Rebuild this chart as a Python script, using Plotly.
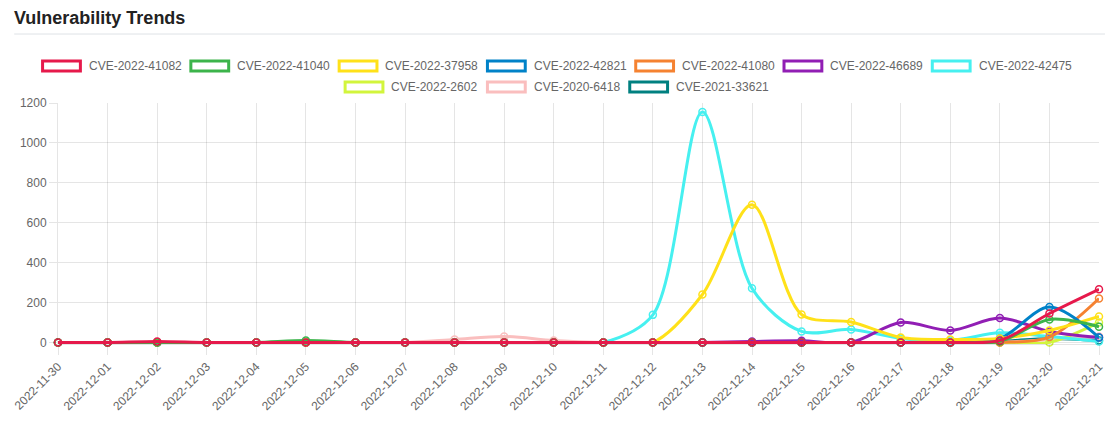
import plotly.graph_objects as go

dates = ["2022-11-30", "2022-12-01", "2022-12-02", "2022-12-03", "2022-12-04", "2022-12-05",
         "2022-12-06", "2022-12-07", "2022-12-08", "2022-12-09", "2022-12-10", "2022-12-11",
         "2022-12-12", "2022-12-13", "2022-12-14", "2022-12-15", "2022-12-16", "2022-12-17",
         "2022-12-18", "2022-12-19", "2022-12-20", "2022-12-21"]

cve_2022_41082 = [0, 0, 5, 0, 0, 0, 0, 0, 0, 0, 0, 0, 0, 0, 0, 0, 0, 0, 0, 10, 145, 266]
cve_2022_41040 = [0, 0, 0, 0, 0, 10, 0, 0, 0, 0, 0, 0, 0, 0, 0, 0, 0, 0, 0, 5, 115, 78]
cve_2022_37958 = [0, 0, 0, 0, 0, 0, 0, 0, 0, 0, 0, 0, 0, 240, 690, 140, 102, 25, 15, 20, 60, 130]
cve_2022_42821 = [0, 0, 0, 0, 0, 0, 0, 0, 0, 0, 0, 0, 0, 0, 0, 0, 0, 0, 0, 20, 177, 25]
cve_2022_41080 = [0, 0, 0, 0, 0, 0, 0, 0, 0, 0, 0, 0, 0, 0, 0, 0, 0, 0, 0, 0, 27, 220]
cve_2022_46689 = [0, 0, 0, 0, 0, 0, 0, 0, 0, 0, 0, 0, 0, 0, 5, 8, 0, 100, 60, 122, 55, 25]
cve_2022_42475 = [0, 0, 0, 0, 0, 0, 0, 0, 0, 0, 0, 0, 138, 1155, 271, 55, 65, 20, 10, 48, 30, 5]
cve_2022_2602 = [0, 0, 0, 0, 0, 0, 0, 0, 0, 0, 0, 0, 0, 0, 0, 0, 0, 0, 0, 0, 0, 100]
cve_2020_6418 = [0, 0, 0, 0, 0, 0, 0, 0, 15, 30, 10, 0, 0, 0, 0, 0, 0, 0, 0, 0, 15, 30]
cve_2021_33621 = [0, 0, 0, 0, 0, 0, 0, 0, 0, 0, 0, 0, 0, 0, 0, 0, 0, 0, 0, 5, 20, 10]

names = ["CVE-2022-41082", "CVE-2022-41040", "CVE-2022-37958", "CVE-2022-42821", "CVE-2022-41080",
         "CVE-2022-46689", "CVE-2022-42475", "CVE-2022-2602", "CVE-2020-6418", "CVE-2021-33621"]
series = [cve_2022_41082, cve_2022_41040, cve_2022_37958, cve_2022_42821, cve_2022_41080,
          cve_2022_46689, cve_2022_42475, cve_2022_2602, cve_2020_6418, cve_2021_33621]
colors = ["#e6194b", "#3cb44b", "#ffe119", "#0082c8", "#f58231",
          "#911eb4", "#46f0f0", "#d2f53c", "#fabebe", "#008080"]

W, H = 1118, 428
L, R, T, B = 58, 14, 103, 84
pw = W - L - R
ph = H - T - B


def px_x(p):
    return (p - L) / pw


def px_y(p):
    return (H - B - p) / ph


fig = go.Figure()
# first dataset drawn on top (reverse order)
for name, vals, col in reversed(list(zip(names, series, colors))):
    fig.add_trace(go.Scatter(
        x=dates, y=vals, name=name, mode="lines+markers",
        line=dict(color=col, width=3, shape="spline", smoothing=0.9),
        marker=dict(symbol="circle-open", size=7, color=col, line=dict(width=1.5)),
        cliponaxis=False, showlegend=False,
    ))

shapes = []
annotations = []

# header title and rule
annotations.append(dict(
    x=px_x(12), y=px_y(18), xref="paper", yref="paper", xanchor="left", yanchor="middle",
    text="<b>Vulnerability Trends</b>", showarrow=False,
    font=dict(family="Liberation Sans, Arial, sans-serif", size=18, color="#222222"),
))
shapes.append(dict(type="line", xref="paper", yref="paper",
                   x0=px_x(14), x1=px_x(1110), y0=px_y(34), y1=px_y(34),
                   line=dict(color="#dee2e6", width=1)))

# custom Chart.js-style legend
row1_starts = [41 + i * 149 for i in range(7)]
row2_starts = [345 + i * 143 for i in range(3)]
positions = [(s, 66) for s in row1_starts] + [(s, 87) for s in row2_starts]
for (sx, cy), name, col in zip(positions, names, colors):
    shapes.append(dict(type="rect", xref="paper", yref="paper",
                       x0=px_x(sx + 1.5), x1=px_x(sx + 39.5), y0=px_y(cy - 5), y1=px_y(cy + 5),
                       line=dict(color=col, width=3), fillcolor="white"))
    annotations.append(dict(
        x=px_x(sx + 46), y=px_y(cy), xref="paper", yref="paper", xanchor="left", yanchor="middle",
        text=name, showarrow=False,
        font=dict(family="Liberation Sans, Arial, sans-serif", size=12, color="#666666"),
    ))

fig.update_layout(
    width=W, height=H,
    margin=dict(l=L, r=R, t=T, b=B),
    paper_bgcolor="white", plot_bgcolor="white",
    shapes=shapes, annotations=annotations,
    font=dict(family="Liberation Sans, Arial, sans-serif", size=12, color="#666666"),
    xaxis=dict(
        type="category", range=[0, 21], tickangle=-45,
        showgrid=True, gridcolor="rgba(0,0,0,0.1)", gridwidth=1,
        ticks="outside", ticklen=10, tickcolor="rgba(0,0,0,0.1)",
        showline=True, linecolor="rgba(0,0,0,0.1)", zeroline=False,
        tickfont=dict(size=12, color="#666666"),
    ),
    yaxis=dict(
        range=[-8, 1200], tickvals=[0, 200, 400, 600, 800, 1000, 1200],
        showgrid=True, gridcolor="rgba(0,0,0,0.1)", gridwidth=1,
        ticks="outside", ticklen=8, tickcolor="rgba(0,0,0,0.1)",
        showline=True, linecolor="rgba(0,0,0,0.1)", zeroline=False,
        tickfont=dict(size=12, color="#666666"),
    ),
)

fig.write_html("out.html")
